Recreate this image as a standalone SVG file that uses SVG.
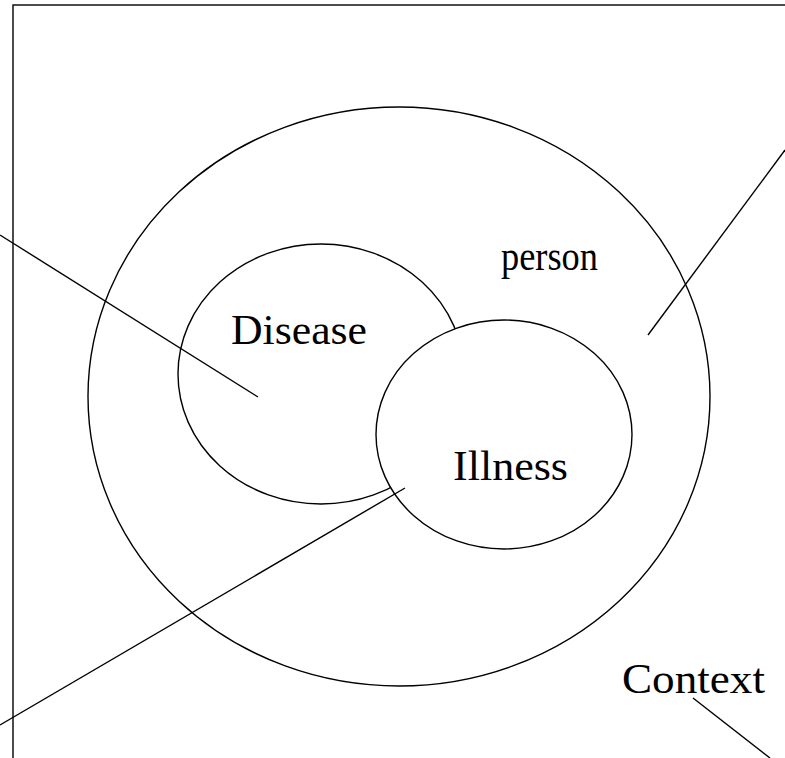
<svg xmlns="http://www.w3.org/2000/svg" width="785" height="758" viewBox="0 0 785 758">
<style>
.s{fill:none;stroke:#000;stroke-width:1.4}
.w{fill:#fff;stroke:#000;stroke-width:1.4}
.t{font-family:"Liberation Serif","Times New Roman",serif;font-size:43px;fill:#000}
</style>
<rect x="0" y="0" width="785" height="758" fill="#fff"/>
<g id="context">
<rect class="s" x="13" y="5" width="800" height="800"/>
<text class="t" x="622" y="693" textLength="143" lengthAdjust="spacingAndGlyphs">Context</text>
</g>
<g id="person">
<ellipse class="s" cx="399" cy="396.5" rx="311" ry="289.5"/>
<text class="t" x="501" y="270" textLength="97" lengthAdjust="spacingAndGlyphs">person</text>
</g>
<g id="disease">
<ellipse class="s" cx="321" cy="374" rx="143" ry="130"/>
<text class="t" x="231" y="344" textLength="136" lengthAdjust="spacingAndGlyphs">Disease</text>
</g>
<g id="illness">
<ellipse class="w" cx="504" cy="434.5" rx="128" ry="114.5"/>
<text class="t" x="453" y="480" textLength="115" lengthAdjust="spacingAndGlyphs">Illness</text>
</g>
<g id="connectors" class="s">
<line x1="0" y1="235" x2="258" y2="397"/>
<line x1="0" y1="725" x2="405" y2="488"/>
<line x1="785" y1="150" x2="648" y2="335"/>
<line x1="693" y1="698" x2="770" y2="758"/>
</g>
</svg>
